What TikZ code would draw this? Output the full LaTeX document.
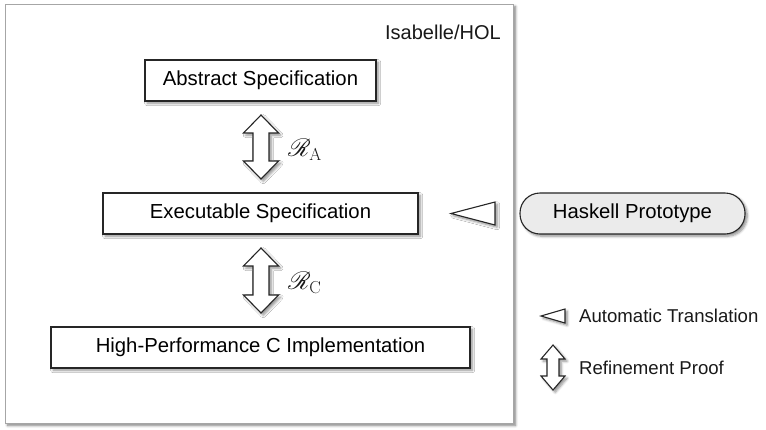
\documentclass[tikz,border=0pt]{standalone}
\usepackage[no-math]{fontspec}
\setmainfont{Liberation Sans}
\usepackage{mathrsfs}
\usetikzlibrary{shadows.blur,calc}

% double-headed refinement arrow: centre x, top y, bottom y, head half-width, shaft half-width, head length
\newcommand\refarrow[6]{%
  \draw[arrowshape] (#1,#2) -- (#1+#4,#2+#6) -- (#1+#5,#2+#6) -- (#1+#5,#3-#6)
    -- (#1+#4,#3-#6) -- (#1,#3) -- (#1-#4,#3-#6) -- (#1-#5,#3-#6)
    -- (#1-#5,#2+#6) -- (#1-#4,#2+#6) -- cycle;}

\tikzset{
  softshadow/.style={blur shadow={shadow xshift=2.2pt, shadow yshift=-2.2pt,
      shadow blur radius=2.5pt, shadow blur steps=6, shadow opacity=45}},
  specbox/.style={draw=black!85, line width=1.1pt, fill=white, minimum height=41pt,
      inner sep=0pt, font=\fontsize{20.3}{24}\selectfont, softshadow},
  protobox/.style={specbox, fill=black!8, rounded corners=20pt},
  arrowshape/.style={draw=black!85, line width=1.1pt, fill=white, line join=miter, softshadow},
  lbl/.style={font=\fontsize{20}{24}\selectfont, inner sep=0pt, text=black!90},
  legend/.style={lbl, font=\fontsize{18.6}{22}\selectfont},
  rel/.style={lbl, font=\fontsize{25}{28}\selectfont},
}

\begin{document}
\begin{tikzpicture}[x=1pt,y=-1pt]
  \useasboundingbox (0,0) rectangle (766,429);

  % Isabelle/HOL frame
  \draw[draw=black!35, line width=1pt, fill=white,
        blur shadow={shadow xshift=2.5pt, shadow yshift=-2.5pt, shadow blur radius=2.5pt,
        shadow blur steps=6, shadow opacity=50}]
    (5,4) rectangle (513,423);
  \node[lbl, anchor=east] (hol) at (501,32) {Isabelle/HOL};

  % specification layers
  \node[specbox, minimum width=231pt] (abs)  at (260.5,80.5)  {Abstract Specification};
  \node[specbox, minimum width=315pt] (exe)  at (260.5,213.5) {Executable Specification};
  \node[specbox, minimum width=419pt] (impl) at (260.5,347.5) {High-Performance C Implementation};

  % refinement proofs between layers
  \refarrow{261}{115}{179}{17.5}{8}{18}
  \refarrow{261}{248}{313}{17.5}{8}{18}
  \node[rel, anchor=west] (ra) at (288,150) {$\mathscr{R}_{\mathrm{A}}$};
  \node[rel, anchor=west] (rc) at (288,283) {$\mathscr{R}_{\mathrm{C}}$};

  % Haskell prototype and its translation
  \node[protobox, minimum width=225pt] (has) at (632.5,213.5) {Haskell Prototype};
  \coordinate (tr) at (451,213.5);
  \draw[arrowshape] (tr) -- (495,202) -- (495,225) -- cycle;

  % legend
  \coordinate (lt) at (541,316);
  \draw[arrowshape] (lt) -- (565,309) -- (565,323) -- cycle;
  \node[legend, anchor=west] (la) at (579,316) {Automatic Translation};
  \refarrow{553}{345}{390}{12}{6}{14}
  \node[legend, anchor=west] (lr) at (579,368) {Refinement Proof};
\end{tikzpicture}
\end{document}
